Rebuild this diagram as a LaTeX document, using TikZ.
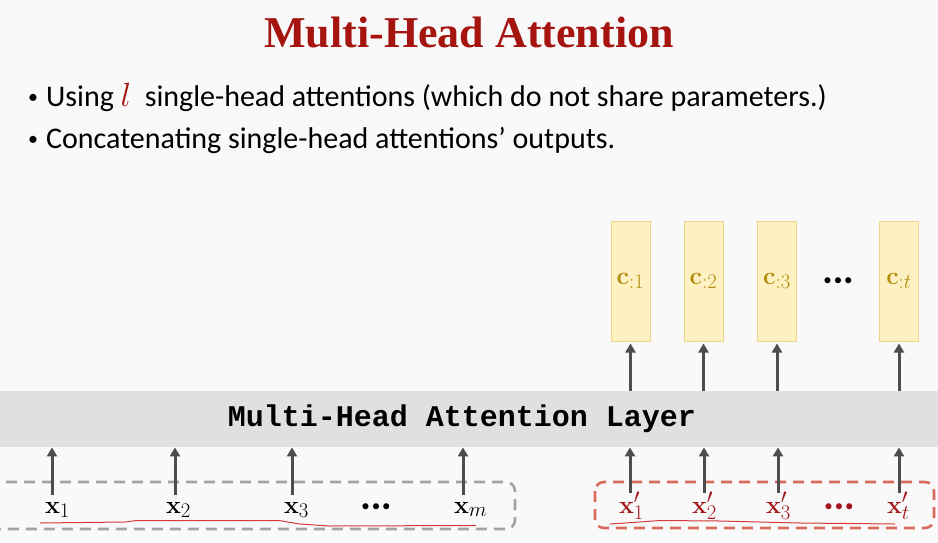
\documentclass[tikz,border=0pt]{standalone}
\usepackage{graphicx}
\usepackage[no-math]{fontspec}
\setmainfont{Carlito}
\newfontfamily\titlefont{Liberation Serif}
\setmonofont{Liberation Mono}
\DeclareMathSizes{26}{26}{20}{15}
\usetikzlibrary{arrows.meta}
\definecolor{bg}{HTML}{F9F9F9}
\definecolor{titlered}{HTML}{A5140F}
\definecolor{xred}{HTML}{A3161A}
\definecolor{bandgray}{HTML}{E1E0E1}
\definecolor{arrgray}{HTML}{4D4D4D}
\definecolor{dashgray}{HTML}{A3A3A3}
\definecolor{dashred}{HTML}{D86B5C}
\definecolor{cfill}{HTML}{FDF1C2}
\definecolor{cdraw}{HTML}{EFD58C}
\definecolor{cgold}{HTML}{B38A0A}
\definecolor{annot}{HTML}{D63A3A}
\tikzset{
  arr/.style={draw=arrgray, line width=3pt, -{Triangle[length=9pt,width=10pt]}},
  cbox/.style={fill=cfill, draw=cdraw, line width=1pt, minimum width=39pt, minimum height=120pt, inner sep=0pt, text=cgold, font=\fontsize{26}{30}\selectfont},
  xlab/.style={anchor=base west, inner sep=0pt, font=\fontsize{26}{30}\selectfont},
  dotsl/.style={inner sep=0pt, font=\fontsize{17}{20}\selectfont},
  dashbox/.style={line width=2.6pt, dash pattern=on 11pt off 7pt, rounded corners=9pt},
  annotline/.style={draw=annot, line width=1pt},
  bullettxt/.style={anchor=base west, inner sep=0pt, font=\fontsize{30}{34}\selectfont},
}
\begin{document}
\begin{tikzpicture}[x=1pt,y=-1pt]
\fill[bg] (0,0) rectangle (938,542);
\useasboundingbox (0,0) rectangle (938,542);
% title
\node[anchor=base, text=titlered, font=\titlefont\bfseries\fontsize{44}{50}\selectfont] (title) at (469,47) {Multi-Head Attention};
% bullets
\node[bullettxt] (b1) at (28,106) {{\fontsize{20}{20}\selectfont\raisebox{3pt}{\textbullet}}\hspace{8pt}Using {\color{titlered}\scalebox{1.35}{$l$}}\ \ single-head attentions (which do not share parameters.)};
\node[bullettxt] (b2) at (28,148) {{\fontsize{20}{20}\selectfont\raisebox{3pt}{\textbullet}}\hspace{8pt}Concatenating single-head attentions’ outputs.};
% band
\node[fill=bandgray, minimum width=938pt, minimum height=56pt, inner sep=0pt, anchor=north west] (band) at (0,391) {};
\node[font=\ttfamily\bfseries\fontsize{30}{34}\selectfont] (bandtxt) at (462,419) {Multi-Head Attention Layer};
% dashed boxes
\draw[dashbox, draw=dashgray] (-12,482) rectangle (515,529);
\draw[dashbox, draw=dashred] (595,482) rectangle (934,528);
% c boxes
\node[cbox] (c1) at (630.5,281) {$\mathbf{c}_{:1}$};
\node[cbox] (c2) at (703.5,281) {$\mathbf{c}_{:2}$};
\node[cbox] (c3) at (777,281) {$\mathbf{c}_{:3}$};
\node[dotsl] (cd) at (838,282) {\textbullet\hspace{2pt}\textbullet\hspace{2pt}\textbullet};
\node[cbox] (ct) at (899,281) {$\mathbf{c}_{:t}$};
% top arrows
\draw[arr] (band.north -| c1) -- ([yshift=-2pt]c1.south);
\draw[arr] (band.north -| c2) -- ([yshift=-2pt]c2.south);
\draw[arr] (band.north -| c3) -- ([yshift=-2pt]c3.south);
\draw[arr] (band.north -| ct) -- ([yshift=-2pt]ct.south);
% left inputs
\node[xlab] (x1) at (45,513) {$\mathbf{x}_1$};
\node[xlab] (x2) at (166,513) {$\mathbf{x}_2$};
\node[xlab] (x3) at (284,513) {$\mathbf{x}_3$};
\node[dotsl] (xd) at (376,508) {\textbullet\hspace{2pt}\textbullet\hspace{2pt}\textbullet};
\node[xlab] (xm) at (454,513) {$\mathbf{x}_m$};
\coordinate (a1) at (52,495);
\coordinate (a2) at (175,495);
\coordinate (a3) at (292,495);
\coordinate (am) at (463,495);
\draw[arr] (a1) -- (a1 |- band.south);
\draw[arr] (a2) -- (a2 |- band.south);
\draw[arr] (a3) -- (a3 |- band.south);
\draw[arr] (am) -- (am |- band.south);
% right inputs
\node[xlab, text=xred] (y1) at (619,513) {$\mathbf{x}'_1$};
\node[xlab, text=xred] (y2) at (692,513) {$\mathbf{x}'_2$};
\node[xlab, text=xred] (y3) at (766,513) {$\mathbf{x}'_3$};
\node[dotsl, text=xred] (yd) at (839,508) {\textbullet\hspace{2pt}\textbullet\hspace{2pt}\textbullet};
\node[xlab, text=xred] (yt) at (887,513) {$\mathbf{x}'_t$};
\coordinate (r1) at (630,493);
\coordinate (r2) at (704,493);
\coordinate (r3) at (778,493);
\coordinate (rt) at (899,493);
\draw[arr] (r1) -- (r1 |- band.south);
\draw[arr] (r2) -- (r2 |- band.south);
\draw[arr] (r3) -- (r3 |- band.south);
\draw[arr] (rt) -- (rt |- band.south);
% hand-drawn underlines
\draw[annotline] (40,523) -- (125,522) -- (137,520.5) -- (279,520.5) -- (300,524) -- (329,526) -- (476,525.5);
\draw[annotline] (610,524) -- (640,522) -- (660,520.5) -- (720,521) -- (800,523) -- (895,524);
\end{tikzpicture}
\end{document}
